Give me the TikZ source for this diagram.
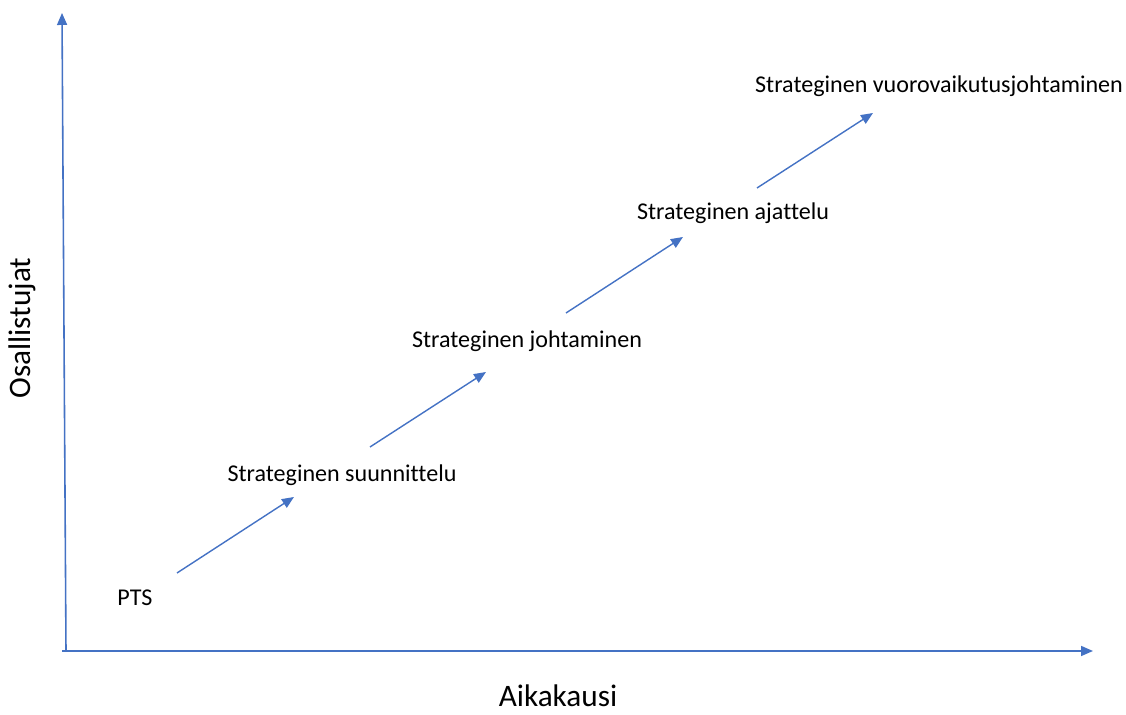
\documentclass[tikz,border=0pt]{standalone}
\usepackage{fontspec}
\setmainfont{Carlito}[Ligatures=NoCommon]
\usetikzlibrary{positioning, arrows.meta}
\definecolor{officeblue}{HTML}{4472C4}

\begin{document}
\begin{tikzpicture}[
    axis/.style={-{Triangle[length=2.4mm, width=2mm]}, line width=0.9pt, officeblue},
    stage/.style={-{Triangle[length=2.4mm, width=2mm]}, line width=0.8pt, officeblue},
    phase/.style={font=\fontsize{13.7}{16}\selectfont, inner sep=0pt},
    axislabel/.style={font=\fontsize{17.8}{21}\selectfont, inner sep=0pt}
]
\useasboundingbox (0,0) rectangle (22.52,14.3);

% Axes
\coordinate (xstart) at (1.24, 1.28);
\coordinate (xend) at (21.86, 1.28);
\coordinate (ybottom) at (1.32, 1.28);
\coordinate (ytop) at (1.24, 14.04);
\draw[axis] (xstart) -- (xend);
\draw[axis] (ybottom) -- (ytop);

% Axis labels
\node[axislabel] (time) at (11.16, 0.38) {Aikakausi};
\node[axislabel, rotate=90] (people) at (0.44, 7.74) {Osallistujat};

% Phases
\node[phase] (pts) at (2.7, 2.34) {PTS};
\node[phase] (planning) at (6.84, 4.8) {Strateginen suunnittelu};
\node[phase] (management) at (10.54, 7.48) {Strateginen johtaminen};
\node[phase] (thinking) at (14.66, 10.04) {Strateginen ajattelu};
\node[phase] (interaction) at (18.78, 12.58) {Strateginen vuorovaikutusjohtaminen};

% Arrows between phases
\coordinate (a1) at (3.54, 2.84);   \coordinate (b1) at (5.88, 4.36);
\coordinate (a2) at (7.40, 5.36);   \coordinate (b2) at (9.72, 6.86);
\coordinate (a3) at (11.32, 8.04);  \coordinate (b3) at (13.66, 9.56);
\coordinate (a4) at (15.14, 10.54); \coordinate (b4) at (17.46, 12.04);
\foreach \i in {1,...,4}
    \draw[stage] (a\i) -- (b\i);

\end{tikzpicture}
\end{document}
